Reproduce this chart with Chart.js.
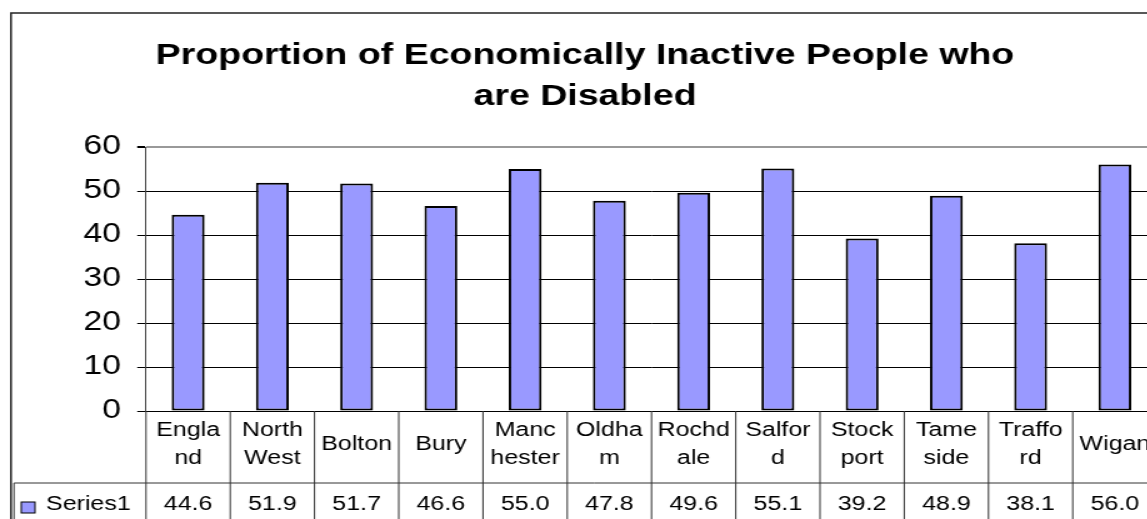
<!DOCTYPE html>
<html>
<head>
<meta charset="utf-8">
<script src="https://cdn.jsdelivr.net/npm/chart.js@4.4.1/dist/chart.umd.min.js"></script>
<style>
  html, body { margin: 0; padding: 0; background: #fff; overflow: hidden; }
  /* the sheet is drawn at 940 wide and stretched out sideways */
  #stage { position: absolute; left: 0; top: 0; width: 940px; height: 519px; transform: scaleX(1.25); transform-origin: 0 0; }
</style>
</head>
<body>
<div id="stage"><canvas id="myChart" width="940" height="519"></canvas></div>
<script>
Chart.defaults.color = '#000'
Chart.defaults.font.family = '"Liberation Sans", Arial, sans-serif'

var areas = ['England', 'North West', 'Bolton', 'Bury', 'Manchester', 'Oldham',
    'Rochdale', 'Salford', 'Stockport', 'Tameside', 'Trafford', 'Wigan']
// how each name wraps inside its table cell
var areaLines = [['Engla', 'nd'], ['North', 'West'], ['Bolton'], ['Bury'], ['Manc', 'hester'],
    ['Oldha', 'm'], ['Rochd', 'ale'], ['Salfor', 'd'], ['Stock', 'port'], ['Tame', 'side'],
    ['Traffo', 'rd'], ['Wigan']]
var disabledShare = [44.6, 51.9, 51.7, 46.6, 55.0, 47.8, 49.6, 55.1, 39.2, 48.9, 38.1, 56.0]
var yTicks = [0, 10, 20, 30, 40, 50, 60]
var seriesName = 'Series1'

var barFill = '#9999ff'

const dataTable = {
    id: 'dataTable',
    beforeDraw(c) {
        const ctx = c.ctx
        ctx.save()
        ctx.fillStyle = '#fff'
        ctx.fillRect(0, 0, c.width, c.height)
        // outer frame
        ctx.strokeStyle = '#222'
        ctx.lineWidth = 1.5
        ctx.beginPath()
        ctx.moveTo(8.8, c.height)
        ctx.lineTo(8.8, 13)
        ctx.lineTo(c.width, 13)
        ctx.stroke()
        ctx.restore()
    },
    afterDraw(c) {
        const ctx = c.ctx
        const x = c.scales.x
        const area = c.chartArea
        const n = areas.length
        const colW = (area.right - area.left) / n
        const top = area.bottom
        const split = 483
        const bottom = c.height

        ctx.save()
        ctx.strokeStyle = '#333'
        ctx.lineWidth = 1
        ctx.beginPath()
        ctx.moveTo(11.2, split)
        ctx.lineTo(c.width, split)
        ctx.moveTo(11.2, split)
        ctx.lineTo(11.2, bottom)
        for (let i = 0; i <= n; i++) {
            const edge = i < n ? x.getPixelForValue(i) - colW / 2 : x.getPixelForValue(n - 1) + colW / 2
            ctx.moveTo(edge, top)
            ctx.lineTo(edge, bottom)
        }
        ctx.stroke()

        ctx.fillStyle = '#000'
        ctx.font = '20px "Liberation Sans", Arial, sans-serif'
        ctx.textAlign = 'center'
        ctx.textBaseline = 'middle'
        areaLines.forEach((lines, i) => {
            const cx = x.getPixelForValue(i)
            if (lines.length === 1) {
                ctx.fillText(lines[0], cx, 444)
            } else {
                ctx.fillText(lines[0], cx, 430)
                ctx.fillText(lines[1], cx, 458)
            }
            ctx.fillText(disabledShare[i].toFixed(1), cx, 504)
        })

        // series key
        ctx.fillStyle = barFill
        ctx.fillRect(17, 502, 11, 11)
        ctx.strokeStyle = '#000'
        ctx.strokeRect(17, 502, 11, 11)
        ctx.fillStyle = '#000'
        ctx.textAlign = 'left'
        ctx.fillText(seriesName, 36.8, 504)
        ctx.restore()
    }
}

var chart = new Chart(document.getElementById('myChart'), {
    type: 'bar',
    data: {
        labels: areas,
        datasets: [
            {
                label: seriesName,
                data: disabledShare,
                backgroundColor: barFill,
                borderColor: '#000',
                borderWidth: 2,
                borderSkipped: false,
                barPercentage: 0.39,
                categoryPercentage: 1
            }
        ]
    },
    options: {
        responsive: false,
        animation: false,
        layout: {
            padding: { left: 10.4, right: 14.4, top: 0, bottom: 108 }
        },
        scales: {
            x: {
                display: false,
                offset: true
            },
            y: {
                min: yTicks[0],
                max: yTicks[yTicks.length - 1],
                afterBuildTicks: (axis) => {
                    axis.ticks = yTicks.map(v => ({ value: v }))
                },
                afterFit: (axis) => {
                    axis.width = 106.4
                },
                ticks: {
                    font: { size: 27 },
                    color: '#000',
                    padding: 13
                },
                grid: {
                    color: (ctx) => ctx.tick && ctx.tick.value === 60 ? '#999' : '#000',
                    lineWidth: (ctx) => ctx.tick && ctx.tick.value === 60 ? 2 : 1,
                    tickColor: '#000',
                    tickLength: 7
                },
                border: { color: '#444', width: 1 }
            }
        },
        plugins: {
            legend: { display: false },
            tooltip: { enabled: false },
            title: {
                display: true,
                text: ['Proportion of Economically Inactive People who', 'are Disabled'],
                color: '#000',
                font: { size: 30, weight: 'bold', lineHeight: 1.3667 },
                padding: { top: 35.5, bottom: 29.5 }
            }
        }
    },
    plugins: [dataTable]
})
</script>
</body>
</html>
